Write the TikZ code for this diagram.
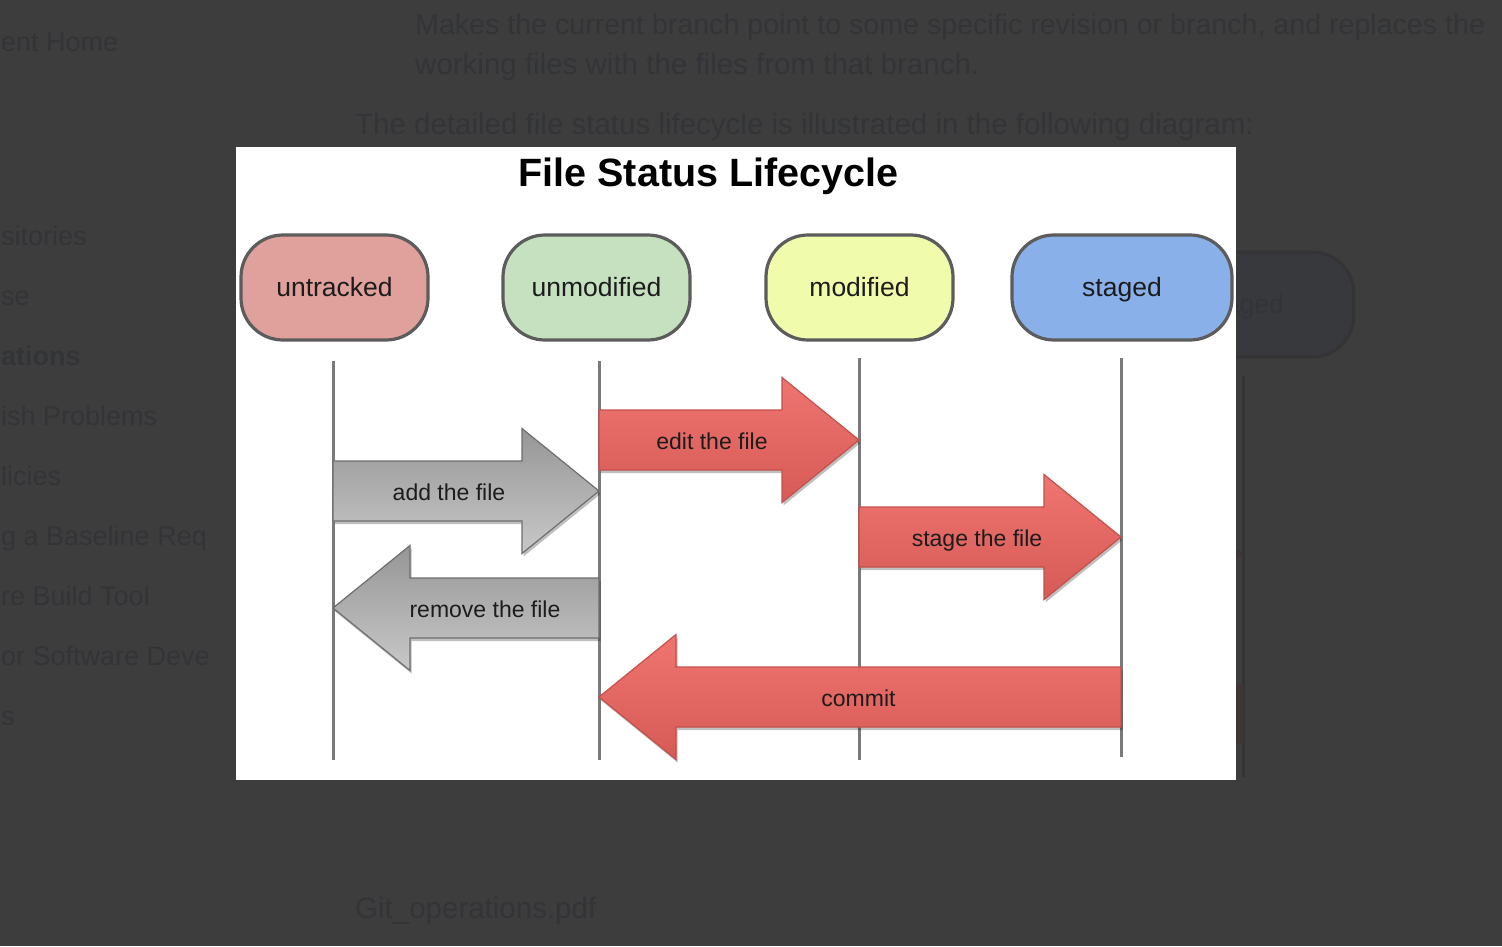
\documentclass[tikz,border=0pt]{standalone}
\usepackage{fontspec}
\setmainfont{Liberation Sans}
\usetikzlibrary{shadows}
\definecolor{pagebg}{HTML}{3D3D3D}
\definecolor{dimtext}{HTML}{333438}
\definecolor{dimpill}{HTML}{38393C}
\definecolor{dimedge}{HTML}{343437}
\definecolor{dimred}{HTML}{3E3535}
\definecolor{cuntracked}{HTML}{E0A09B}
\definecolor{cunmodified}{HTML}{C6E1C0}
\definecolor{cmodified}{HTML}{F0FBAB}
\definecolor{cstaged}{HTML}{89B0E8}
\definecolor{pilledge}{HTML}{5C5C5C}
\definecolor{lanegray}{HTML}{7A7A7A}
\definecolor{redtop}{HTML}{EF7571}
\definecolor{redbot}{HTML}{D65A55}
\definecolor{rededge}{HTML}{C4504B}
\definecolor{graytop}{HTML}{969696}
\definecolor{graybot}{HTML}{C8C8C8}
\definecolor{grayedge}{HTML}{6E6E6E}
\definecolor{labeltext}{HTML}{1C1C1C}

\newcommand\blockright[4]{%
  \pgfmathsetmacro\hbx{#3-77}%
  \path[#1] (#2,#4-30) -- (\hbx,#4-30) -- (\hbx,#4-62.5) -- (#3,#4) -- (\hbx,#4+62.5) -- (\hbx,#4+30) -- (#2,#4+30) -- cycle;}
\newcommand\blockleft[4]{%
  \pgfmathsetmacro\hbx{#2+77}%
  \path[#1] (#3,#4-30) -- (\hbx,#4-30) -- (\hbx,#4-62.5) -- (#2,#4) -- (\hbx,#4+62.5) -- (\hbx,#4+30) -- (#3,#4+30) -- cycle;}

\tikzset{
  pill/.style={draw=pilledge, line width=3.2pt, rounded corners=42pt,
    minimum height=105pt, inner sep=0pt, text height=21pt, text depth=4pt,
    font=\fontsize{26.5}{30}\selectfont, text=labeltext},
  lane/.style={draw=lanegray, line width=3pt},
  redblock/.style={top color=redtop, bottom color=redbot, draw=rededge, line width=1.2pt,
    drop shadow={shadow xshift=1.5pt, shadow yshift=-3pt, opacity=0.25, fill=black}},
  grayblock/.style={top color=graytop, bottom color=graybot, draw=grayedge, line width=1.2pt,
    drop shadow={shadow xshift=1.5pt, shadow yshift=-3pt, opacity=0.25, fill=black}},
  blocklabel/.style={anchor=base, inner sep=0pt, text=labeltext, font=\fontsize{23}{26}\selectfont},
  bgline/.style={anchor=base west, inner sep=0pt, text=dimtext, font=\fontsize{29.5}{34}\selectfont},
  sideline/.style={anchor=base west, inner sep=0pt, text=dimtext, font=\fontsize{27}{32}\selectfont},
}

\begin{document}
\begin{tikzpicture}[x=1pt,y=-1pt]
\useasboundingbox (0,0) rectangle (1502,946);
\clip (0,0) rectangle (1502,946);
\fill[pagebg] (0,0) rectangle (1502,946);

% faint diagram behind the dimmed page (right of the modal)
\node[pill, draw=dimedge, fill=dimpill, text=dimtext, minimum width=220pt] (bgstaged) at (1244,304.5) {staged};
\coordinate (bglanetop) at (1243,376);
\coordinate (bglanebot) at (1243,777);
\draw[draw=dimedge, line width=3pt] (bglanetop) -- (bglanebot);
\blockright{fill=dimred}{981}{1243}{554}
\path[fill=dimred] (1150,684) rectangle (1243,744);

% dimmed page text
\node[bgline, font=\fontsize{28.6}{34}\selectfont] (bgt1) at (415,34) {Makes the current branch point to some specific revision or branch, and replaces the};
\node[bgline] (bgt2) at (415,74) {working files with the files from that branch.};
\node[bgline] (bgt3) at (355,134) {The detailed file status lifecycle is illustrated in the following diagram:};
\node[bgline] (bgt4) at (355,918) {Git\_operations.pdf};
\begin{scope}
\clip (0,0) rectangle (216,946);
\node[sideline] (s1) at (1,51) {ent Home};
\node[sideline] (s2) at (1,245) {sitories};
\node[sideline] (s3) at (1,305) {se};
\node[sideline, font=\bfseries\fontsize{27}{32}\selectfont] (s4) at (1,365) {ations};
\node[sideline] (s5) at (1,425) {ish Problems};
\node[sideline] (s6) at (1,485) {licies};
\node[sideline] (s7) at (1,545) {g a Baseline Req};
\node[sideline] (s8) at (1,605) {re Build Tool};
\node[sideline] (s9) at (1,665) {or Software Deve};
\node[sideline] (s10) at (1,725) {s};
\end{scope}

% modal
\fill[white] (236,147) rectangle (1236,780);
\node[anchor=base, inner sep=0pt, font=\bfseries\fontsize{39.5}{44}\selectfont, text=black] (title) at (708.5,186) {File Status Lifecycle};

% state pills
\node[pill, fill=cuntracked, minimum width=187pt] (untracked) at (334.5,287.5) {untracked};
\node[pill, fill=cunmodified, minimum width=187pt] (unmodified) at (596.5,287.5) {unmodified};
\node[pill, fill=cmodified, minimum width=187pt] (modified) at (859.5,287.5) {modified};
\node[pill, fill=cstaged, minimum width=220pt] (staged) at (1122,287.5) {staged};

% lanes
\coordinate (ut) at (333,361); \coordinate (ub) at (333,760);
\coordinate (mt) at (599,361); \coordinate (mb) at (599,760);
\coordinate (dt) at (859,358); \coordinate (db) at (859,760);
\coordinate (st) at (1121,358); \coordinate (sb) at (1121,757);
\draw[lane] (ut) -- (ub);
\draw[lane] (mt) -- (mb);
\draw[lane] (dt) -- (db);
\draw[lane] (st) -- (sb);

% transitions
\blockright{grayblock}{333}{599}{491}
\node[blocklabel] (addlbl) at (449,500) {add the file};
\blockright{redblock}{599}{859}{440}
\node[blocklabel] (editlbl) at (712,449) {edit the file};
\blockright{redblock}{859}{1121}{537}
\node[blocklabel] (stagelbl) at (977,546) {stage the file};
\blockleft{grayblock}{333}{599}{608}
\node[blocklabel] (removelbl) at (485,617) {remove the file};
\blockleft{redblock}{599}{1121}{697}
\node[blocklabel] (commitlbl) at (858.5,706) {commit};
\end{tikzpicture}
\end{document}
